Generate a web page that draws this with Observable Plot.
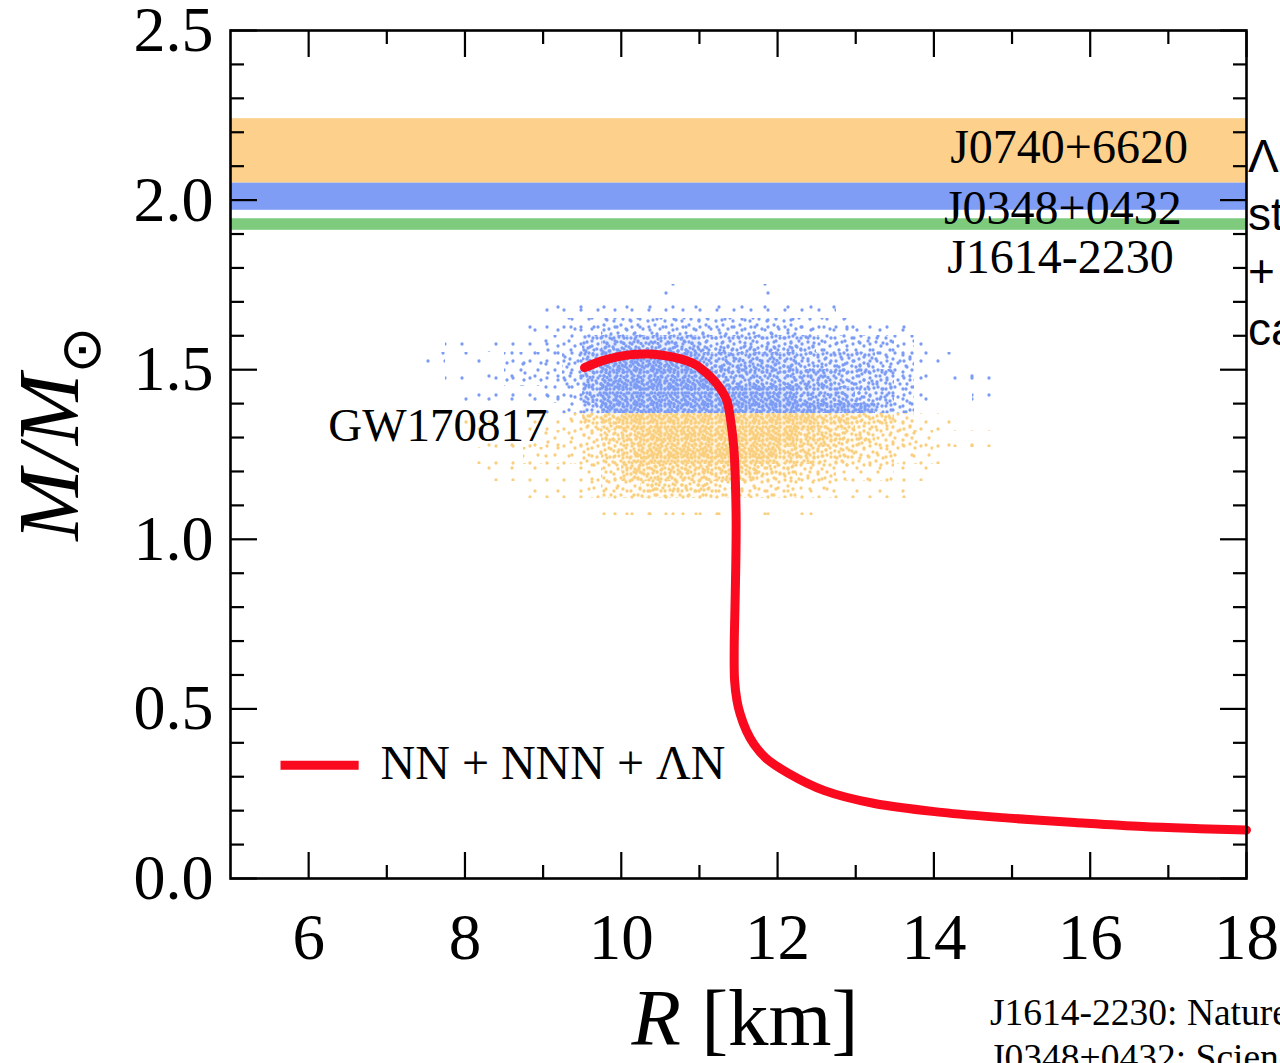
<!DOCTYPE html>
<html><head><meta charset="utf-8">
<script src="https://cdn.jsdelivr.net/npm/d3@7"></script>
<script src="https://cdn.jsdelivr.net/npm/@observablehq/plot@0.6"></script>
<style>
html,body{margin:0;padding:0;background:#fff;overflow:hidden;width:1280px;height:1063px}
#chart{position:relative;width:1280px;height:1063px;overflow:hidden}
</style></head><body><div id="chart"></div>
<script>
// ---------------- data ----------------
const xMajorTicks = [6, 8, 10, 12, 14, 16, 18];
const xMinorTicks = [7, 9, 11, 13, 15, 17];
const yMajorTicks = [0, 0.5, 1.0, 1.5, 2.0, 2.5];
const yMinorTicks = [0.1,0.2,0.3,0.4,0.6,0.7,0.8,0.9,1.1,1.2,1.3,1.4,1.6,1.7,1.8,1.9,2.1,2.2,2.3,2.4];

const bandNames = ["J0740+6620", "J0348+0432", "J1614-2230"];
const bandLow   = [2.05, 1.97, 1.911];
const bandHigh  = [2.24, 2.05, 1.945];
const bandColors = ["#fdd18c", "#7f9df5", "#7fcb7d"];
const bandLabelR = [17.25, 17.17, 17.07];
const bandLabelM = [2.155, 1.975, 1.83];

// M-R curve (NN + NNN + ΛN)
const curveR = [9.53, 9.75, 9.95, 10.15, 10.35, 10.55, 10.77, 10.95, 11.09, 11.2, 11.28, 11.35, 11.40, 11.44, 11.46, 11.47, 11.465, 11.455, 11.445, 11.45, 11.48, 11.52, 11.60, 11.70, 11.85, 12.14, 12.6, 13.24, 14.1, 14.96, 15.8, 16.67, 17.4, 18.0];
const curveM = [1.506, 1.526, 1.538, 1.545, 1.546, 1.542, 1.531, 1.515, 1.49, 1.465, 1.44, 1.41, 1.35, 1.27, 1.17, 1.05, 0.92, 0.80, 0.68, 0.584, 0.525, 0.486, 0.436, 0.395, 0.355, 0.31, 0.259, 0.221, 0.195, 0.178, 0.165, 0.153, 0.147, 0.143];

// GW170817 sample cloud, read as density levels (0-6) per cell
const cloudREdges = [7.5,7.75,8,8.25,8.5,8.75,9,9.25,9.5,9.75,10,10.25,10.5,10.75,11,11.25,11.5,11.75,12,12.25,12.5,12.75,13,13.25,13.5,13.75,14,14.25,14.5,14.75,15];
const blueMTop    = [1.75, 1.70, 1.65, 1.60, 1.55, 1.50, 1.45, 1.40];
const blueMBottom = [1.70, 1.65, 1.60, 1.55, 1.50, 1.45, 1.40, 1.37];
const blueDensity = [
  "000000000000100001000000000000",
  "000000111111111111111000000000",
  "000001122333333333322211100000",
  "010111224555554444443333210000",
  "101022235666665555544443311000",
  "010122235666666555555444310110",
  "001111225666666666655544310010",
  "000000124666666666666664300000"
];
const orangeMTop    = [1.37, 1.32, 1.27, 1.22, 1.17, 1.12];
const orangeMBottom = [1.32, 1.27, 1.22, 1.17, 1.12, 1.07];
const orangeDensity = [
  "001111124566666666665544311000",
  "000111223456666666655443321110",
  "001112223456666666554433221000",
  "000111112355555554433222110000",
  "000001112334444333322111100000",
  "000000000111111101010000000000"
];
const blueDot = "#7b9bf4";
const orangeDot = "#f9cf7e";

const gwLabel = {text: "GW170817", R: 6.25, M: 1.335};
const legendLine = {R1: 5.64, R2: 6.64, M: 0.334};
const legendText = {text: "NN + NNN + ΛN", R: 6.92, M: 0.338};
const curveColor = "#fa0a1e";

const sideLines = ["Λ", "st", "+", "ca"];
const refLines = ["J1614-2230: Nature", "J0348+0432: Science"];

// ---------------- texture patterns (style only) ----------------
const tileA = [[3,4],[11,13],[14,6],[6,10],[9,2],[2,15],[10,8],[15,15],[1.8,9],[7,14],[5,1.8],[15,11],[12,3.5],[8,11.5],[4,7],[13,9.5],[11,15.5],[5,13],[15,2],[8,5.5]];
const tileB = [[6,8],[17,19],[19,5],[9,21],[13,12],[3,16],[15,2],[21,13],[8,2],[11,6],[2,21],[18,9],[14,17],[3,4],[7,13],[21,21],[16,14],[10,17],[20,1.8],[5,19]];
const levelBg = [0, 0, 0, 0.03, 0.08, 0.16, 0.28];
const levelNA = [0, 1, 3, 6, 10, 14, 20];
const levelNB = [0, 1, 3, 6, 10, 14, 20];
const dotR = 1.65;

const defsSvg = d3.select("body").append("svg").attr("width", 0).attr("height", 0).style("position", "absolute");
const defs = defsSvg.append("defs");
function makePattern(id, size, dots, n, color, bg) {
  const p = defs.append("pattern").attr("id", id).attr("patternUnits", "userSpaceOnUse").attr("width", size).attr("height", size);
  if (bg > 0) p.append("rect").attr("width", size).attr("height", size).attr("fill", color).attr("fill-opacity", bg);
  dots.slice(0, n).forEach(([cx, cy]) => p.append("circle").attr("cx", cx).attr("cy", cy).attr("r", dotR).attr("fill", color));
}
for (let k = 1; k <= 6; k++) {
  makePattern("bA" + k, 17, tileA, levelNA[k], blueDot, levelBg[k]);
  makePattern("bB" + k, 23, tileB, levelNB[k], blueDot, 0);
  makePattern("oA" + k, 17, tileA, levelNA[k], orangeDot, levelBg[k]);
  makePattern("oB" + k, 23, tileB, levelNB[k], orangeDot, 0);
}

function buildCells(tops, bottoms, rows) {
  const cells = [];
  rows.forEach((row, r) => {
    for (let c = 0; c < row.length; c++) {
      const level = +row[c];
      if (level > 0) cells.push({r1: cloudREdges[c], r2: cloudREdges[c + 1], m1: bottoms[r], m2: tops[r], level});
    }
  });
  return cells;
}
const blueCells = buildCells(blueMTop, blueMBottom, blueDensity);
const orangeCells = buildCells(orangeMTop, orangeMBottom, orangeDensity);

const bands = bandNames.map((name, i) => ({name, lo: bandLow[i], hi: bandHigh[i], color: bandColors[i], lr: bandLabelR[i], lm: bandLabelM[i]}));
const curve = curveR.map((r, i) => ({R: r, M: curveM[i]}));

const cloudMarks = [];
for (let k = 1; k <= 6; k++) {
  for (const [cells, pre] of [[blueCells, "b"], [orangeCells, "o"]]) {
    const sub = cells.filter(d => d.level === k);
    cloudMarks.push(Plot.rect(sub, {x1: "r1", x2: "r2", y1: "m1", y2: "m2", fill: `url(#${pre}A${k})`, shapeRendering: "crispEdges"}));
    cloudMarks.push(Plot.rect(sub, {x1: "r1", x2: "r2", y1: "m1", y2: "m2", fill: `url(#${pre}B${k})`, shapeRendering: "crispEdges"}));
  }
}

const blank = () => "";
const tickW = 2.2;

const chart = Plot.plot({
  width: 1280, height: 1063,
  marginLeft: 230, marginRight: 34, marginTop: 30, marginBottom: 185,
  x: {domain: [5, 18]},
  y: {domain: [0, 2.5]},
  style: {fontFamily: "'Liberation Serif', 'Times New Roman', serif", background: "white", color: "black"},
  marks: [
    Plot.rect(bands, {y1: "lo", y2: "hi", fill: "color"}),
    ...cloudMarks,
    Plot.line(curve, {x: "R", y: "M", stroke: curveColor, strokeWidth: 9, curve: "catmull-rom"}),
    Plot.text(bands, {x: "lr", y: "lm", text: "name", textAnchor: "end", fontSize: 48, fill: "black"}),
    Plot.text([gwLabel], {x: "R", y: "M", text: "text", textAnchor: "start", fontSize: 47, fill: "black"}),
    Plot.link([legendLine], {x1: "R1", x2: "R2", y1: "M", y2: "M", stroke: curveColor, strokeWidth: 9}),
    Plot.text([legendText], {x: "R", y: "M", text: "text", textAnchor: "start", fontSize: 48, fill: "black"}),
    // ticks (inward, mirrored)
    Plot.axisX({ticks: xMajorTicks, anchor: "bottom", tickSize: -26, tickFormat: blank, strokeWidth: tickW, label: null}),
    Plot.axisX({ticks: xMinorTicks, anchor: "bottom", tickSize: -13, tickFormat: blank, strokeWidth: tickW, label: null}),
    Plot.axisX({ticks: xMajorTicks, anchor: "top", tickSize: -26, tickFormat: blank, strokeWidth: tickW, label: null}),
    Plot.axisX({ticks: xMinorTicks, anchor: "top", tickSize: -13, tickFormat: blank, strokeWidth: tickW, label: null}),
    Plot.axisY({ticks: yMajorTicks, anchor: "left", tickSize: -27, tickFormat: blank, strokeWidth: tickW, label: null}),
    Plot.axisY({ticks: yMinorTicks, anchor: "left", tickSize: -14, tickFormat: blank, strokeWidth: tickW, label: null}),
    Plot.axisY({ticks: yMajorTicks, anchor: "right", tickSize: -27, tickFormat: blank, strokeWidth: tickW, label: null}),
    Plot.axisY({ticks: yMinorTicks, anchor: "right", tickSize: -14, tickFormat: blank, strokeWidth: tickW, label: null}),
    // tick labels
    Plot.axisX({ticks: xMajorTicks, anchor: "bottom", tickSize: 0, tickPadding: 34, fontSize: 65, label: null, tickFormat: d3.format("d")}),
    Plot.axisY({ticks: yMajorTicks, anchor: "left", tickSize: 0, tickPadding: 17, fontSize: 64, label: null, tickFormat: d3.format(".1f")}),
    Plot.frame({stroke: "black", strokeWidth: 2.6})
  ]
});
document.getElementById("chart").appendChild(chart);

// ---------------- axis titles and side notes ----------------
const svg = d3.select(chart);
const xs = chart.scale("x"), ys = chart.scale("y");
const frameL = xs.range[0], frameR = xs.range[1];
const fontSerif = "'Liberation Serif', 'Times New Roman', serif";

const xt = svg.append("text").attr("x", (frameL + frameR) / 2 + 7).attr("y", 1045)
  .attr("text-anchor", "middle").attr("font-size", 81).attr("font-family", fontSerif).attr("fill", "black");
xt.append("tspan").attr("font-style", "italic").text("R");
xt.append("tspan").text(" [km]");

const yt = svg.append("text").attr("transform", `translate(78, ${ys.apply(1.31)}) rotate(-90)`)
  .attr("text-anchor", "middle").attr("font-size", 86).attr("font-family", fontSerif).attr("fill", "black").attr("font-style", "italic");
yt.append("tspan").text("M/M");
yt.append("tspan").attr("font-style", "normal").attr("font-size", 56).attr("dy", 22).attr("font-family", "'DejaVu Sans', sans-serif").text("⊙");

sideLines.forEach((t, i) => {
  svg.append("text").attr("x", frameR + 2).attr("y", 172 + i * 57.5).attr("text-anchor", "start")
    .attr("font-size", 46).attr("font-family", "'Liberation Sans', Arial, sans-serif").attr("fill", "black").text(t);
});
refLines.forEach((t, i) => {
  svg.append("text").attr("x", 990).attr("y", 1025 + i * 45).attr("text-anchor", "start")
    .attr("font-size", 37.5).attr("font-family", fontSerif).attr("fill", "black").text(t);
});
</script>
</body></html>
